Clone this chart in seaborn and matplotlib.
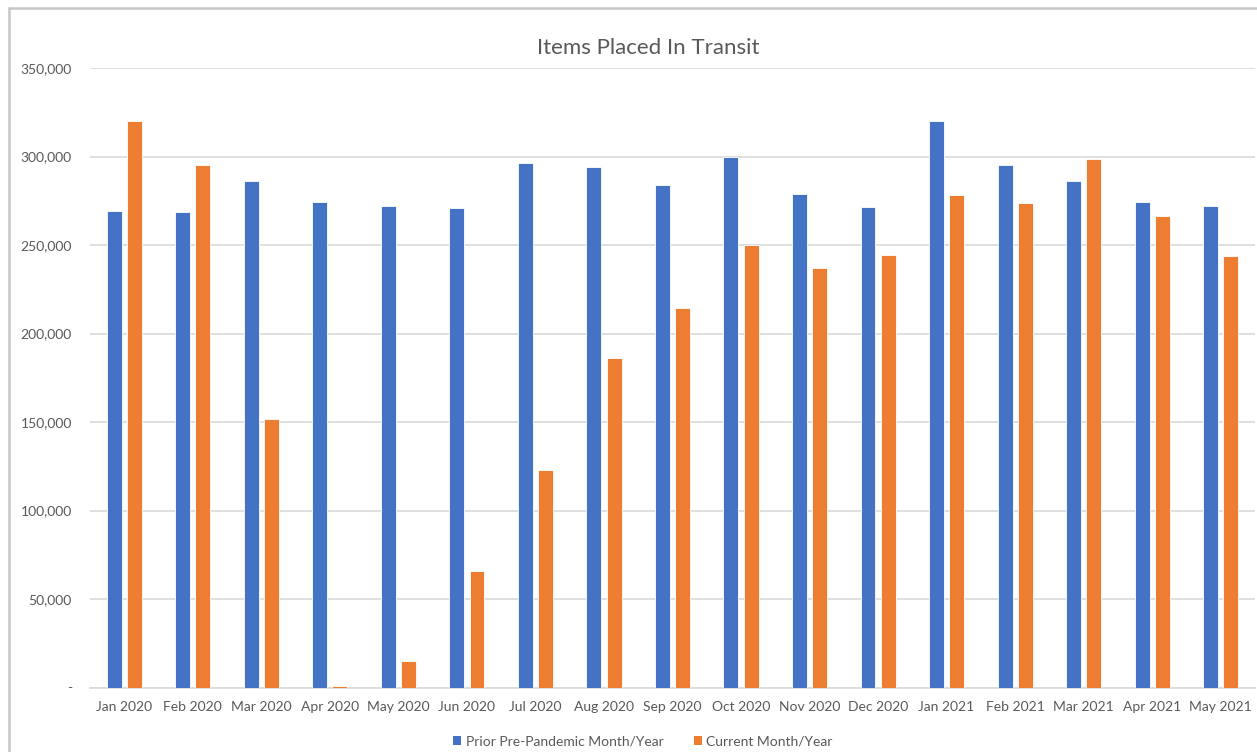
import matplotlib
matplotlib.use("Agg")
import matplotlib.pyplot as plt
from matplotlib.ticker import FuncFormatter, MultipleLocator
from matplotlib.lines import Line2D
from matplotlib.patches import Patch
import seaborn as sns
import pandas as pd

months = ["Jan 2020", "Feb 2020", "Mar 2020", "Apr 2020", "May 2020", "Jun 2020",
          "Jul 2020", "Aug 2020", "Sep 2020", "Oct 2020", "Nov 2020", "Dec 2020",
          "Jan 2021", "Feb 2021", "Mar 2021", "Apr 2021", "May 2021"]
prior = [269200, 268700, 286000, 274500, 272200, 270700, 296200, 294300, 283900,
         299900, 278700, 271500, 319800, 295000, 286000, 274500, 272200]
current = [319800, 295000, 151500, 1000, 15000, 66000, 123000, 186000, 214400,
           250200, 237200, 244400, 278100, 273600, 298600, 266400, 243800]
series_names = ["Prior Pre-Pandemic Month/Year", "Current Month/Year"]
colors = ["#4472C4", "#ED7D31"]

df = pd.DataFrame({
    "month": months * 2,
    "items": prior + current,
    "series": [series_names[0]] * len(months) + [series_names[1]] * len(months),
})

sns.set_theme(style="white")
plt.rcParams["font.family"] = ["Lato", "DejaVu Sans"]
text_color = "#595959"
grid_color = "#d9d9d9"

W, H = 1257, 752
fig = plt.figure(figsize=(W / 100, H / 100), dpi=100)
ax = fig.add_axes([90 / W, 1 - 687.5 / H, (1255 - 90) / W, (687.5 - 68) / H])

sns.barplot(data=df, x="month", y="items", hue="series", hue_order=series_names,
            palette=colors, width=0.59, gap=0.26, edgecolor="white", linewidth=0.6,
            saturation=1, ax=ax, legend=False, zorder=3)

ax.set_ylim(0, 350000)
ax.set_xlim(-0.5, len(months) - 0.5)
ax.yaxis.set_major_locator(MultipleLocator(50000))
ax.yaxis.set_major_formatter(FuncFormatter(lambda v, p: "-" if v == 0 else f"{int(v):,}"))
ax.grid(axis="y", color=grid_color, linewidth=1.2, zorder=0)
ax.grid(axis="x", visible=False)
for side in ["left", "right", "top"]:
    ax.spines[side].set_visible(False)
ax.spines["bottom"].set_color(grid_color)
ax.spines["bottom"].set_linewidth(1.2)
ax.tick_params(axis="both", length=0, labelsize=10, colors=text_color)
ax.tick_params(axis="y", pad=13)
ax.tick_params(axis="x", pad=10)
ax.set_xlabel("")
ax.set_ylabel("")

fig.text(648 / W, 1 - 48 / H, "Items Placed In Transit", ha="center", va="center",
         fontsize=16, color=text_color)

handles = [Patch(facecolor=c, edgecolor="none") for c in colors]
fig.legend(handles, series_names, loc="center", bbox_to_anchor=(643 / W, 1 - 741 / H),
           ncol=2, frameon=False, fontsize=10, labelcolor=text_color,
           handlelength=0.6, handleheight=0.6, handletextpad=0.3, columnspacing=2.2)

# chart area border (top and left edges)
border = "#c6c6c6"
fig.add_artist(Line2D([9 / W, 1], [1 - 8 / H, 1 - 8 / H], color=border, linewidth=1.8,
                      transform=fig.transFigure))
fig.add_artist(Line2D([9 / W, 9 / W], [0, 1 - 8 / H], color=border, linewidth=1.8,
                      transform=fig.transFigure))

fig.savefig("out.png", dpi=100, facecolor="white")
